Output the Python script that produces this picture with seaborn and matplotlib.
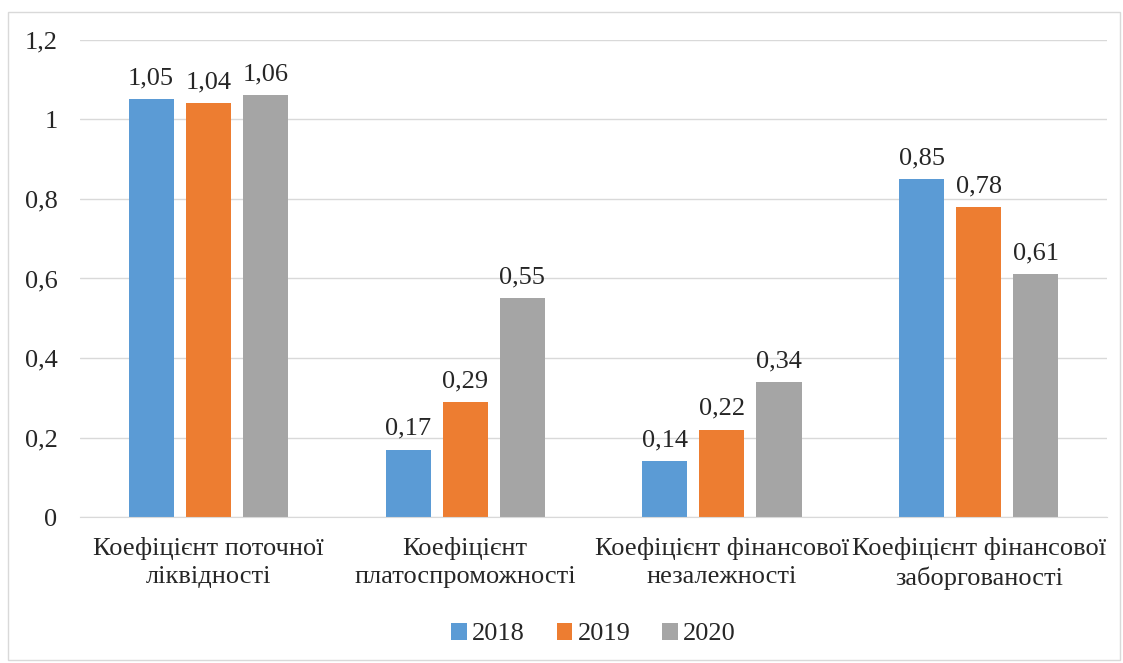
import seaborn as sns
import matplotlib.pyplot as plt
import pandas as pd
from matplotlib.patches import Rectangle

# дані
categories = ['Коефіцієнт поточної\nліквідності',
              'Коефіцієнт\nплатоспроможності',
              'Коефіцієнт фінансової\nнезалежності',
              'Коефіцієнт фінансової\nзаборгованості']
years = ['2018', '2019', '2020']
values_2018 = [1.05, 0.17, 0.14, 0.85]
values_2019 = [1.04, 0.29, 0.22, 0.78]
values_2020 = [1.06, 0.55, 0.34, 0.61]
colors = ['#5b9bd5', '#ed7d31', '#a5a5a5']

df = pd.DataFrame({
    'category': categories * 3,
    'year': [y for y in years for _ in categories],
    'value': values_2018 + values_2019 + values_2020,
})

sns.set_style('white')
plt.rcParams['font.family'] = ['Liberation Serif', 'DejaVu Serif']

fig = plt.figure(figsize=(11.23, 6.63), dpi=100)
ax = fig.add_axes([0.071, 0.22, 0.915, 0.72])

sns.barplot(data=df, x='category', y='value', hue='year', palette=colors,
            width=0.666, gap=0.21, ax=ax, saturation=1, legend=True,
            edgecolor='none')

for cont in ax.containers:
    ax.bar_label(cont, labels=[f'{v:.2f}'.replace('.', ',') for v in cont.datavalues],
                 padding=7, fontsize=19)

ax.set_ylim(0, 1.2)
ax.set_xlim(-0.5, 3.5)
ax.set_yticks([0, 0.2, 0.4, 0.6, 0.8, 1.0, 1.2])
ax.set_yticklabels(['0', '0,2', '0,4', '0,6', '0,8', '1', '1,2'], fontsize=19)
ax.tick_params(axis='x', labelsize=19, length=0, pad=14)
for lbl in ax.get_xticklabels():
    lbl.set_linespacing(1.4)
ax.tick_params(axis='y', length=0, pad=16)
ax.grid(axis='y', color='#d9d9d9', linewidth=1)
ax.set_axisbelow(True)
ax.set_xlabel('')
ax.set_ylabel('')
for s in ['top', 'right', 'left']:
    ax.spines[s].set_visible(False)
ax.spines['bottom'].set_color('#d9d9d9')

handles, labels = ax.get_legend_handles_labels()
ax.legend(handles, labels, loc='center', bbox_to_anchor=(0.5, -0.245),
          ncol=3, frameon=False, fontsize=19, handlelength=0.6, handleheight=0.6,
          handletextpad=0.2, columnspacing=1.2)

fig.patches.append(Rectangle((0.007, 0.005), 0.99, 0.977, transform=fig.transFigure,
                             fill=False, edgecolor='#d9d9d9', linewidth=1))

plt.savefig('out.png', dpi=100)
